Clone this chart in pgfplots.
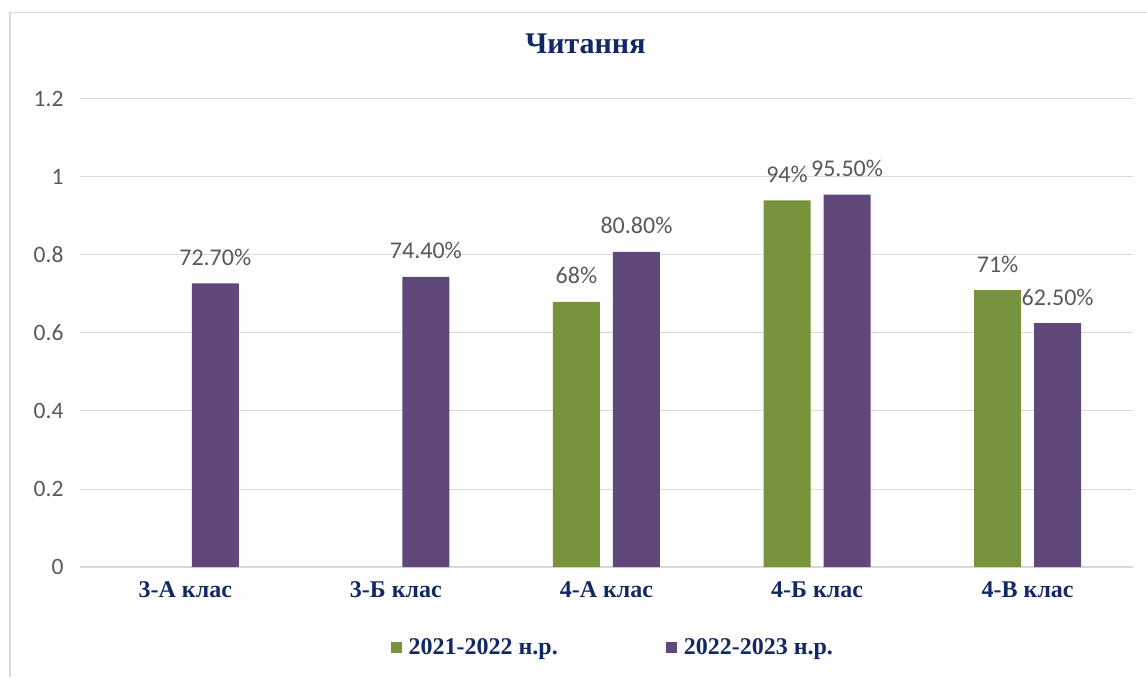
\documentclass[border=0pt]{standalone}
\usepackage{fontspec}
\usepackage{pgfplots}
\pgfplotsset{compat=1.18}
\setmainfont{Liberation Serif}
\newfontfamily\calibri{Carlito}
\definecolor{grn}{RGB}{119,147,60}
\definecolor{prp}{RGB}{96,73,122}
\definecolor{navy}{RGB}{18,40,100}
\definecolor{lbl}{RGB}{89,89,89}
\definecolor{grd}{RGB}{217,217,217}

\begin{document}
\begin{tikzpicture}[x=1pt,y=1pt]
\useasboundingbox (0,0) rectangle (1147,677);
\draw[grd, line width=1.5pt] (10,0) -- (10,664.5) -- (1147,664.5);
\begin{axis}[
    at={(80pt,110pt)}, anchor=south west,
    scale only axis, width=1053pt, height=468pt,
    xmin=-0.5, xmax=4.5, ymin=0, ymax=1.2,
    ybar=13pt, bar width=47pt,
    axis x line*=bottom, axis y line*=left,
    x axis line style={grd, line width=1.5pt, -},
    y axis line style={draw=none},
    xtick={0,1,2,3,4}, xtick style={draw=none},
    xticklabels={3-А клас,3-Б клас,4-А клас,4-Б клас,4-В клас},
    xticklabel style={font=\fontsize{24}{26}\selectfont\bfseries, text=navy, yshift=-7pt},
    ytick={0,0.2,...,1.2}, ytick style={draw=none},
    ymajorgrids, grid style={grd, line width=1pt},
    yticklabel style={font=\calibri\fontsize{23.5}{25}\selectfont, text=lbl, anchor=east, xshift=-13pt},
    /pgf/number format/assume math mode=true,
    title={Читання},
    title style={font=\fontsize{30}{32}\selectfont\bfseries, text=navy, at={(0.48,1.105)}, anchor=center},
    nodes near coords, point meta=explicit symbolic,
    every node near coord/.append style={font=\calibri\fontsize{24}{26}\selectfont, text=lbl, anchor=base, yshift=18pt},
    legend columns=2,
    legend style={draw=none, fill=none, at={(0.506,-0.171)}, anchor=center,
        font=\fontsize{24}{26}\selectfont\bfseries, text=navy,
        /tikz/every even column/.append style={column sep=106pt}},
    legend image code/.code={\fill[#1] (0pt,-5.5pt) rectangle (11pt,5.5pt); \path (16pt,0pt);},
]
\addplot[fill=grn, draw=none] coordinates {(2,0.68) [68\%] (3,0.94) [94\%] (4,0.71) [71\%]};
\addplot[fill=prp, draw=none] coordinates {(0,0.727) [72.70\%] (1,0.744) [74.40\%] (2,0.808) [80.80\%] (3,0.955) [95.50\%] (4,0.625) [62.50\%]};
\legend{2021-2022 н.р., 2022-2023 н.р.}
\end{axis}
\end{tikzpicture}
\end{document}
